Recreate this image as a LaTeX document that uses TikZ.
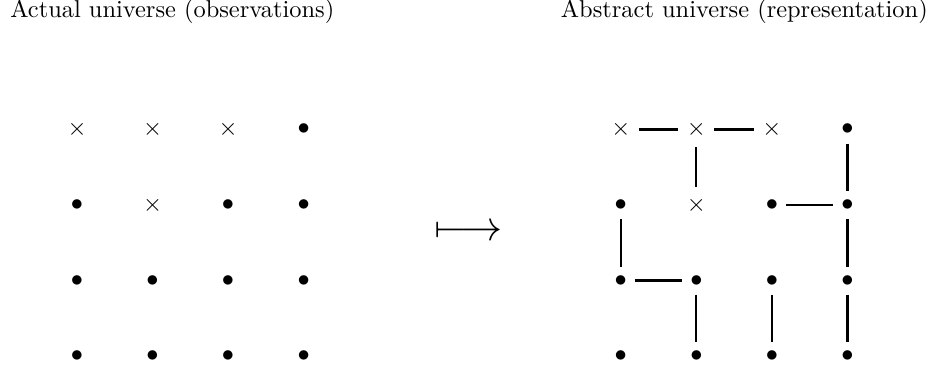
\documentclass[tikz,border=0pt]{standalone}
\usepackage{amsmath}
\usepackage{amssymb}
\usepackage{tikz}

\begin{document}
\begin{tikzpicture}[x=30.94pt, y=30.94pt,
        cross/.style = {circle, inner sep=0pt, minimum size=14.3pt},
        dot/.style = {circle, inner sep=0pt, minimum size=11.1pt},
        link/.style = {line width=0.9pt},
        title/.style = {inner sep=0pt}]
        \useasboundingbox (-1.02,-0.172) rectangle (11.32,4.715);
        \node[title, anchor=base west] (obs) at (-0.89,4.48) {Actual universe (observations)};
        \node[title, anchor=base east] (rep) at (11.27,4.48) {Abstract universe (representation)};
        % observations
        \node[cross] (o11) at (0,3) {$\times$};
        \node[cross] (o12) at (1,3) {$\times$};
        \node[cross] (o13) at (2,3) {$\times$};
        \node[dot] (o14) at (3,3) {$\bullet$};
        \node[dot] (o21) at (0,2) {$\bullet$};
        \node[cross] (o22) at (1,2) {$\times$};
        \node[dot] (o23) at (2,2) {$\bullet$};
        \node[dot] (o24) at (3,2) {$\bullet$};
        \node[dot] (o31) at (0,1) {$\bullet$};
        \node[dot] (o32) at (1,1) {$\bullet$};
        \node[dot] (o33) at (2,1) {$\bullet$};
        \node[dot] (o34) at (3,1) {$\bullet$};
        \node[dot] (o41) at (0,0) {$\bullet$};
        \node[dot] (o42) at (1,0) {$\bullet$};
        \node[dot] (o43) at (2,0) {$\bullet$};
        \node[dot] (o44) at (3,0) {$\bullet$};
        % the map
        \node[font=\LARGE] (map) at (5.18,1.63) {$\longmapsto$};
        % representation
        \node[cross] (r11) at (7.2,3) {$\times$};
        \node[cross] (r12) at (8.2,3) {$\times$};
        \node[cross] (r13) at (9.2,3) {$\times$};
        \node[dot] (r14) at (10.2,3) {$\bullet$};
        \node[dot] (r21) at (7.2,2) {$\bullet$};
        \node[cross] (r22) at (8.2,2) {$\times$};
        \node[dot] (r23) at (9.2,2) {$\bullet$};
        \node[dot] (r24) at (10.2,2) {$\bullet$};
        \node[dot] (r31) at (7.2,1) {$\bullet$};
        \node[dot] (r32) at (8.2,1) {$\bullet$};
        \node[dot] (r33) at (9.2,1) {$\bullet$};
        \node[dot] (r34) at (10.2,1) {$\bullet$};
        \node[dot] (r41) at (7.2,0) {$\bullet$};
        \node[dot] (r42) at (8.2,0) {$\bullet$};
        \node[dot] (r43) at (9.2,0) {$\bullet$};
        \node[dot] (r44) at (10.2,0) {$\bullet$};
        \draw[link] (r11) -- (r12);
        \draw[link] (r12) -- (r13);
        \draw[link] (r12) -- (r22);
        \draw[link] (r14) -- (r24);
        \draw[link] (r23) -- (r24);
        \draw[link] (r21) -- (r31);
        \draw[link] (r24) -- (r34);
        \draw[link] (r31) -- (r32);
        \draw[link] (r32) -- (r42);
        \draw[link] (r33) -- (r43);
        \draw[link] (r34) -- (r44);
      \end{tikzpicture}
\end{document}
